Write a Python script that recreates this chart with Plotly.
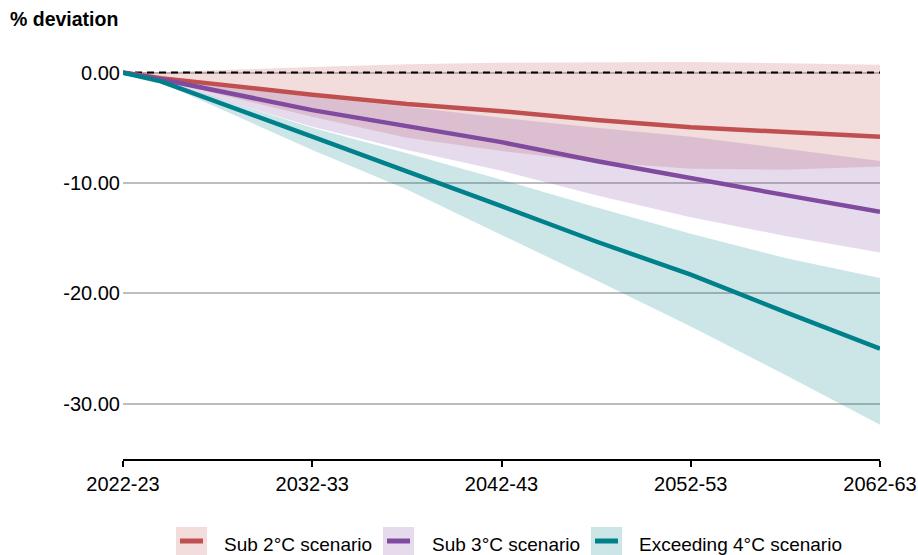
import plotly.graph_objects as go

years = [2022, 2024, 2032, 2037, 2042, 2047, 2052, 2057, 2062]

sub2_mid = [0, -0.5, -2.0, -2.85, -3.5, -4.3, -4.95, -5.4, -5.8]
sub2_hi = [0, 0.05, 0.5, 0.75, 0.9, 0.95, 0.95, 0.85, 0.72]
sub2_lo = [0, -0.7, -4.0, -5.9, -7.1, -8.1, -8.7, -8.8, -8.5]

sub3_mid = [0, -0.6, -3.4, -4.8, -6.3, -8.0, -9.6, -11.1, -12.6]
sub3_hi = [0, -0.4, -2.2, -3.1, -4.1, -5.0, -5.8, -6.9, -8.0]
sub3_lo = [0, -0.8, -4.9, -7.0, -8.9, -11.1, -13.1, -14.8, -16.3]

ex4_mid = [0, -0.8, -5.8, -8.9, -12.1, -15.3, -18.3, -21.7, -25.0]
ex4_hi = [0, -0.7, -5.0, -7.3, -9.7, -12.2, -14.6, -16.8, -18.6]
ex4_lo = [0, -0.9, -7.0, -10.6, -14.7, -18.8, -23.0, -27.4, -31.9]

tick_years = [2022, 2032, 2042, 2052, 2062]
tick_labels = ["2022-23", "2032-33", "2042-43", "2052-53", "2062-63"]
y_ticks = [0, -10, -20, -30]
y_labels = ["0.00", "-10.00", "-20.00", "-30.00"]

names = ["Sub 2°C scenario", "Sub 3°C scenario", "Exceeding 4°C scenario"]
line_colors = ["rgb(192,80,80)", "rgb(128,74,158)", "rgb(0,128,138)"]
band_colors = ["rgba(192,80,80,0.2)", "rgba(128,74,158,0.2)", "rgba(0,128,138,0.2)"]

series = [(sub2_mid, sub2_hi, sub2_lo), (sub3_mid, sub3_hi, sub3_lo), (ex4_mid, ex4_hi, ex4_lo)]

FONT = "Arial, Liberation Sans, sans-serif"
FS = 20
W, H = 918, 555
ML, MR, MT, MB = 123, 38, 45, 96
PW, PH = W - ML - MR, H - MT - MB

fig = go.Figure()

# uncertainty bands
for (mid, hi, lo), bc in zip(series, band_colors):
    fig.add_trace(go.Scatter(x=years, y=hi, mode="lines", line=dict(width=0),
                             showlegend=False, hoverinfo="skip"))
    fig.add_trace(go.Scatter(x=years, y=lo, mode="lines", line=dict(width=0),
                             fill="tonexty", fillcolor=bc, showlegend=False, hoverinfo="skip"))

# zero reference line
fig.add_trace(go.Scatter(x=[years[0], years[-1]], y=[0, 0], mode="lines",
                         line=dict(color="black", width=2, dash="7px,5px"),
                         showlegend=False, hoverinfo="skip"))

# central projections
for (mid, hi, lo), lc, nm in zip(series, line_colors, names):
    fig.add_trace(go.Scatter(x=years, y=mid, mode="lines", name=nm,
                             line=dict(color=lc, width=4.5), showlegend=False))


def px_x(px):
    return (px - ML) / PW


def px_y(py):
    return (H - MB - py) / PH


# hand-drawn legend (box with line through it)
shapes = []
annotations = []
legend_items = [(176, 222), (383, 430), (591, 637)]
for (bx, tx), lc, bc, nm in zip(legend_items, line_colors, band_colors, names):
    shapes.append(dict(type="rect", xref="paper", yref="paper",
                       x0=px_x(bx), x1=px_x(bx + 31), y0=px_y(555), y1=px_y(527),
                       fillcolor=bc, line=dict(width=0)))
    shapes.append(dict(type="line", xref="paper", yref="paper",
                       x0=px_x(bx + 4), x1=px_x(bx + 27), y0=px_y(541), y1=px_y(541),
                       line=dict(color=lc, width=5)))
    annotations.append(dict(text=nm, xref="paper", yref="paper", x=px_x(tx), y=px_y(544),
                            xanchor="left", yanchor="middle", showarrow=False,
                            font=dict(size=19, color="black", family=FONT)))

fig.update_layout(
    width=W, height=H,
    margin=dict(l=ML, r=MR, t=MT, b=MB),
    plot_bgcolor="white", paper_bgcolor="white",
    font=dict(family=FONT, size=FS, color="black"),
    title=dict(text="<b>% deviation</b>", x=10 / W, xanchor="left", xref="container",
               y=1 - 19 / H, yanchor="middle", yref="container",
               font=dict(size=19.5, color="black", family=FONT)),
    showlegend=False,
    shapes=shapes,
    annotations=annotations,
)

fig.update_xaxes(range=[2022, 2062], tickvals=tick_years, ticktext=tick_labels,
                 showline=True, linecolor="black", linewidth=1.5,
                 ticks="outside", ticklen=6, tickwidth=1.5, tickcolor="black",
                 showgrid=False, zeroline=False, tickfont=dict(size=FS), automargin=False)
fig.update_yaxes(range=[-35, 2.5], tickvals=y_ticks, ticktext=y_labels,
                 showgrid=True, gridcolor="#bdbdbd", gridwidth=1.5,
                 zeroline=False, showline=False, ticks="", tickfont=dict(size=FS),
                 ticklabelstandoff=2, automargin=False)

# drop the default 8px page margin so the figure sits at the window's corner
fig.write_html("out.html", config={"displayModeBar": False},
               post_script="document.body.style.margin='0';")
